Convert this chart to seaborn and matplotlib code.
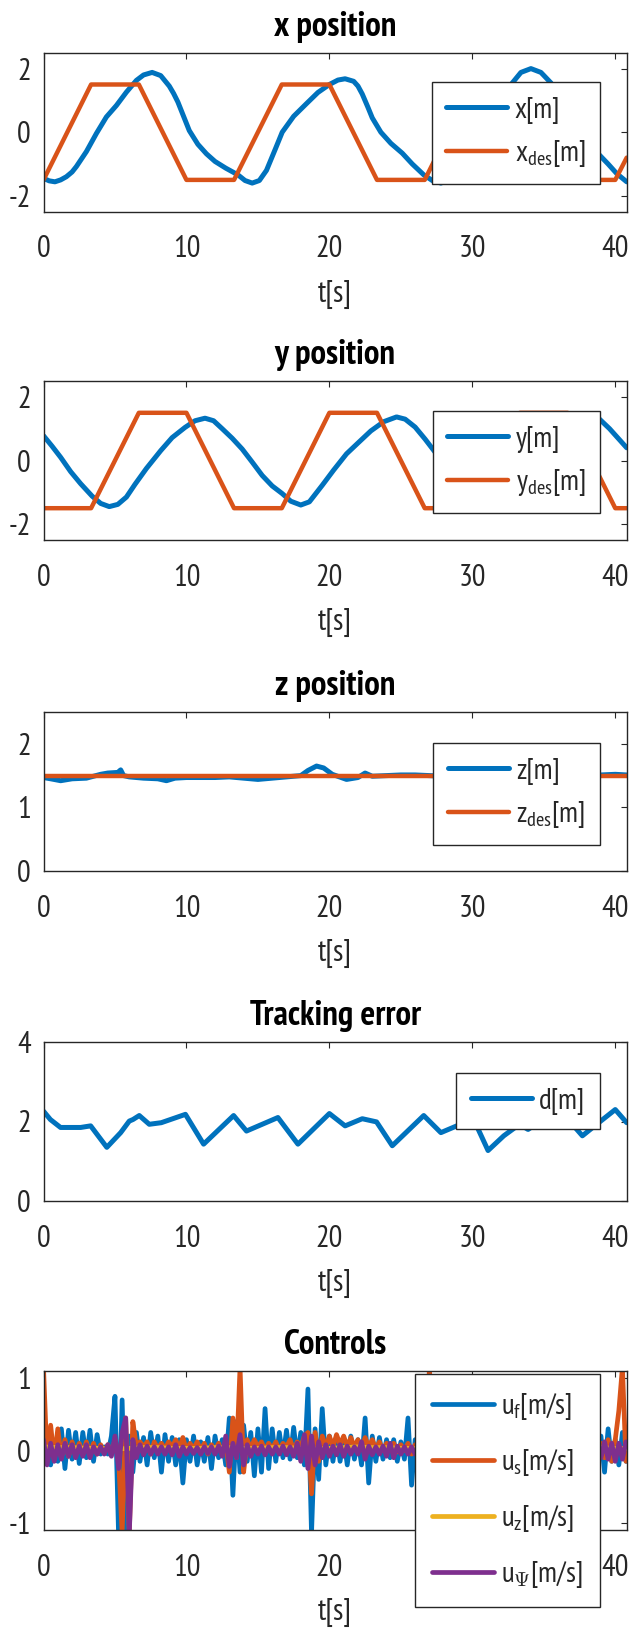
import numpy as np
import pandas as pd
import matplotlib
matplotlib.use("Agg")
import matplotlib.pyplot as plt
import matplotlib.font_manager as fm
import seaborn as sns

# MATLAB default line colours
BLUE, ORANGE, YELLOW, PURPLE = "#0072BD", "#D95319", "#EDB120", "#7E2F8E"

# ---- x position ----
x_t = [0, 0.4, 0.8, 1.2, 1.6, 2.0, 2.3, 3.0, 3.7, 4.4, 5.1, 5.8, 6.5, 7.0, 7.6, 8.2, 8.8,
       9.1, 9.4, 9.8, 10.2, 10.8, 11.4, 12.0, 12.75, 13.6, 14.1, 14.6, 15.1, 15.6, 16.2,
       16.7, 17.5, 18.4, 19.2, 20.0, 20.6, 21.1, 21.7, 22.0, 22.3, 22.7, 23.0, 23.6, 24.3,
       25.1, 25.8, 26.6, 27.2, 27.8, 28.4, 29.0, 29.7, 30.4, 31.2, 32.0, 32.8, 33.4, 34.1,
       34.8, 35.5, 36.3, 37.2, 38.0, 38.9, 39.5, 40.1, 40.8]
x_m = [-1.45, -1.53, -1.56, -1.50, -1.40, -1.25, -1.08, -0.61, -0.04, 0.48, 0.84, 1.26, 1.63,
       1.80, 1.88, 1.78, 1.45, 1.22, 0.95, 0.50, 0.05, -0.38, -0.68, -0.92, -1.13, -1.34,
       -1.52, -1.60, -1.52, -1.20, -0.55, 0.0, 0.50, 0.90, 1.25, 1.50, 1.64, 1.68, 1.60,
       1.45, 1.20, 0.78, 0.45, 0.0, -0.35, -0.66, -1.0, -1.34, -1.52, -1.60, -1.50, -1.20,
       -0.70, -0.10, 0.50, 1.0, 1.55, 1.88, 2.0, 1.88, 1.55, 0.80, 0.0, -0.45, -0.72, -1.0,
       -1.30, -1.56]
des_t = [0, 3.33, 6.67, 10, 13.33, 16.67, 20, 23.33, 26.67, 30, 33.33, 36.67, 40, 40.8]
x_des = [-1.5, 1.5, 1.5, -1.5, -1.5, 1.5, 1.5, -1.5, -1.5, 1.5, 1.5, -1.5, -1.5, -0.8]

# ---- y position ----
y_t = [0, 0.6, 1.2, 1.9, 2.6, 3.4, 4.0, 4.6, 5.2, 5.8, 6.4, 7.2, 8.2, 9.0, 9.9, 10.6, 11.3,
       11.9, 12.5, 13.2, 13.9, 14.6, 15.3, 16.0, 16.7, 17.3, 18.0, 18.6, 19.5, 20.3, 21.2,
       22.0, 22.9, 23.8, 24.7, 25.3, 26.0, 26.7, 27.5, 28.3, 29.0, 29.8, 30.6, 31.4, 32.1,
       32.9, 33.8, 34.6, 35.5, 36.4, 37.3, 38.1, 38.9, 39.6, 40.2, 40.8]
y_m = [0.78, 0.45, 0.10, -0.35, -0.73, -1.12, -1.35, -1.45, -1.38, -1.15, -0.75, -0.25, 0.31,
       0.72, 1.04, 1.25, 1.33, 1.25, 1.0, 0.70, 0.36, -0.05, -0.47, -0.80, -1.04, -1.28,
       -1.40, -1.30, -0.78, -0.30, 0.21, 0.55, 0.93, 1.22, 1.37, 1.30, 1.05, 0.67, 0.20,
       -0.30, -0.70, -1.05, -1.32, -1.42, -1.30, -0.95, -0.40, 0.15, 0.65, 1.05, 1.30, 1.40,
       1.30, 1.0, 0.70, 0.40]
y_des = [-1.5, -1.5, 1.5, 1.5, -1.5, -1.5, 1.5, 1.5, -1.5, -1.5, 1.5, 1.5, -1.5, -1.5]
y_des_t = [0, 3.33, 6.67, 10, 13.33, 16.67, 20, 23.33, 26.67, 30, 33.33, 36.67, 40, 40.8]

# ---- z position ----
z_t = [0, 0.5, 1.2, 2, 3, 4, 4.5, 5.2, 5.4, 5.6, 6, 7, 8, 8.6, 9.2, 10, 11, 12, 13, 14, 15,
       16, 17, 18, 18.5, 19.1, 19.6, 20.2, 21.2, 22, 22.5, 23, 24, 25, 26, 27, 28, 30, 32,
       34, 36, 38, 39, 40, 40.8]
z_m = [1.47, 1.45, 1.42, 1.45, 1.46, 1.52, 1.54, 1.55, 1.59, 1.50, 1.48, 1.46, 1.45, 1.42,
       1.46, 1.47, 1.47, 1.47, 1.48, 1.46, 1.44, 1.46, 1.48, 1.50, 1.58, 1.65, 1.62, 1.52,
       1.44, 1.47, 1.54, 1.49, 1.50, 1.51, 1.51, 1.50, 1.49, 1.50, 1.50, 1.49, 1.50, 1.50,
       1.51, 1.52, 1.51]
z_des_t = [0, 40.8]
z_des = [1.5, 1.5]

# ---- tracking error ----
d_t = [0, 0.48, 1.19, 2.6, 3.3, 4.43, 5.4, 6.0, 6.26, 6.7, 7.4, 8.24, 9.93, 11.2, 13.3, 14.2,
       16.4, 17.8, 20.0, 21.1, 22.3, 23.3, 24.4, 26.6, 27.8, 29.7, 30.2, 31.1, 32.2, 33.3,
       33.9, 35.3, 36.0, 36.7, 37.7, 38.7, 40.0, 40.8]
d_m = [2.26, 2.05, 1.85, 1.85, 1.89, 1.35, 1.72, 2.01, 2.05, 2.15, 1.93, 1.97, 2.18, 1.43,
       2.15, 1.76, 2.10, 1.43, 2.20, 1.89, 2.07, 1.99, 1.39, 2.15, 1.72, 2.01, 1.97, 1.27,
       1.64, 1.93, 1.80, 2.14, 2.30, 2.05, 1.64, 1.93, 2.30, 1.97]

# ---- controls (sampled every 0.25 s) ----
u_f = [-0.15, 0.10, -0.20, 0.12, -0.15, 0.30, -0.25, 0.28,
       -0.12, 0.25, -0.18, 0.25, -0.10, 0.28, -0.15, 0.22,
       -0.05, 0.05, -0.05, 0.20, 0.75, -1.15, 0.70, -1.15,
       0.20, -0.30, 0.25, -0.15, 0.18, -0.20, 0.25, -0.10,
       0.20, -0.30, 0.22, -0.15, 0.18, -0.20, 0.15, -0.45,
       0.15, -0.15, 0.20, -0.20, 0.12, -0.15, 0.18, -0.25,
       0.20, -0.10, 0.15, -0.20, 0.45, -0.62, 0.40, -0.30,
       0.35, -0.15, 0.25, -0.35, 0.30, -0.30, 0.58, -0.25,
       0.30, -0.15, 0.25, -0.10, 0.28, -0.12, 0.32, -0.10,
       0.25, -0.20, 0.85, -1.15, 0.30, -0.40, 0.58, -0.20,
       0.20, -0.15, 0.20, -0.15, 0.18, -0.20, 0.20, -0.12,
       0.15, -0.20, 0.45, -0.45, 0.20, -0.15, 0.18, -0.12,
       0.15, -0.10, 0.15, -0.15, 0.12, -0.12, 0.45, -0.48,
       0.15, -0.15, 0.20, -0.20, 0.15, -0.25, 0.30, -0.20,
       0.25, -0.30, 0.20, -0.15, 0.30, -0.20, 0.25, -0.18,
       0.20, -0.25, 0.30, -0.15, 0.25, -0.20, 0.20, -0.15,
       0.25, -0.20, 0.35, -0.25, 0.20, -0.15, 0.25, -0.20,
       0.20, -0.15, 0.30, -0.20, 0.25, -0.25, 0.20, -0.15,
       0.25, -0.20, 0.20, -0.15, 0.30, -0.20, 0.20, -0.15,
       0.15, -0.10, 0.20, -0.15, 0.20, -0.30, 0.30, -0.15,
       0.15, -0.20, 0.25, -0.15]
u_s = [1.15, -0.15, 0.35, -0.12, 0.30, -0.10, 0.15, -0.08,
       0.12, -0.05, 0.10, -0.05, 0.12, -0.05, 0.10, -0.05,
       0.08, -0.03, 0.08, -0.05, 0.15, -0.10, -1.15, 0.45,
       -1.15, 0.40, 0.05, 0.12, 0.05, 0.12, -0.05, 0.12,
       0.02, 0.10, 0.02, 0.12, 0.05, 0.15, 0.02, 0.18,
       0.00, 0.10, 0.02, 0.12, 0.00, 0.10, -0.05, 0.08,
       0.00, 0.10, -0.05, 0.12, -0.30, 0.45, -0.10, 1.15,
       -0.30, 0.15, 0.02, 0.15, 0.05, 0.12, 0.00, 0.10,
       0.02, 0.12, 0.00, 0.10, 0.05, 0.15, 0.00, 0.12,
       0.05, 0.20, 0.25, -0.60, 0.25, -0.15, 0.20, 0.05,
       0.20, 0.05, 0.22, 0.08, 0.20, 0.05, 0.18, 0.05,
       0.15, 0.02, 0.18, 0.05, 0.15, 0.02, 0.12, 0.00,
       0.10, 0.00, 0.10, -0.02, 0.08, 0.00, 0.10, -0.05,
       0.08, -0.05, 0.10, 0.00, 1.15, -0.10, 0.10, -0.05,
       0.10, -0.05, 0.12, 0.00, 0.10, -0.05, 0.08, 0.00,
       0.10, -0.05, 0.12, 0.00, 0.10, -0.05, 0.10, 0.00,
       0.12, -0.05, 0.10, 0.00, 0.12, -0.05, 0.10, 0.00,
       0.10, -0.05, 0.12, 0.00, 0.10, -0.05, 0.10, 0.00,
       0.12, -0.05, 0.10, 0.00, 0.10, -0.05, 0.12, 0.00,
       0.10, -0.05, 0.08, -0.10, 0.10, -0.10, 0.15, -0.15,
       0.15, 0.55, 1.15, -0.15]
u_z = [0.05, 0.04, 0.04, 0.03, 0.03, 0.02, 0.03, 0.04, 0.04, 0.03, 0.03, 0.03, 0.04, 0.04,
       0.03, 0.03, 0.04, 0.04, 0.03, 0.02, 0.03, 0.04, 0.05, 0.04, 0.04, 0.03, 0.03, 0.04,
       0.04, 0.04, 0.03, 0.03, 0.04, 0.04, 0.04, 0.03, 0.03, 0.04, 0.04, 0.04, 0.03, 0.03]
u_psi = [0.15, -0.20, 0.10, -0.15, 0.08, -0.12, 0.10, -0.08,
         0.08, -0.10, 0.06, -0.08, 0.08, -0.10, 0.05, -0.05,
         0.05, -0.05, 0.08, -0.08, 0.20, -0.25, 0.25, 0.45,
         -1.15, 0.15, -0.10, 0.08, -0.06, 0.06, -0.05, 0.05,
         -0.05, 0.05, -0.05, 0.05, -0.06, 0.08, -0.08, 0.05,
         -0.05, 0.04, -0.04, 0.04, -0.05, 0.05, -0.04, 0.05,
         -0.05, 0.06, -0.08, 0.20, -0.22, 0.10, -0.10, 0.22,
         -0.20, 0.08, -0.08, 0.05, -0.05, 0.06, -0.06, 0.05,
         -0.05, 0.05, -0.05, 0.06, -0.06, 0.05, -0.08, 0.10,
         -0.15, 0.22, -0.25, 0.20, -0.20, 0.12, -0.10, 0.08,
         -0.08, 0.06, -0.06, 0.08, -0.08, 0.06, -0.05, 0.05,
         -0.05, 0.12, -0.12, 0.06, -0.06, 0.05, -0.05, 0.06,
         -0.08, 0.10, -0.10, 0.06, -0.05, 0.05, -0.05, 0.05,
         -0.05, 0.06, -0.06, 0.05, -0.08, 0.08, -0.06, 0.05,
         -0.06, 0.06, -0.05, 0.06, -0.06, 0.05, -0.06, 0.06,
         -0.05, 0.06, -0.06, 0.05, -0.06, 0.06, -0.05, 0.05,
         -0.06, 0.06, -0.05, 0.06, -0.06, 0.05, -0.06, 0.06,
         -0.05, 0.06, -0.06, 0.05, -0.06, 0.06, -0.05, 0.05,
         -0.06, 0.06, -0.05, 0.06, -0.06, 0.05, -0.06, 0.06,
         -0.08, 0.10, -0.10, 0.08, -0.10, 0.12, -0.12, 0.10,
         -0.15, 0.10, -0.12, 0.12]

sns.set_theme(style="white")


# pick a narrow sans face that also has a bold weight (MATLAB figure look)
def _is_bold(f):
    w = f.weight
    if isinstance(w, str):
        return w.lower() in ("bold", "heavy", "black", "extra bold", "demibold", "semibold")
    return w >= 600


fonts = fm.fontManager.ttflist
bad = ("Light", "Thin", "Medium", "Black", "Extra", "Semi", "Demi")
cands = sorted({f.name for f in fonts
                if ("Narrow" in f.name or "Condensed" in f.name)
                and not any(b in f.name for b in bad)},
               key=lambda n: (0 if "Narrow" in n else 1, n))
cands = [n for n in cands if any(f.name == n and _is_bold(f) for f in fonts)]
FAM = cands[0] if cands else "Liberation Sans"

plt.rcParams["font.family"] = [FAM, "DejaVu Sans"]
plt.rcParams["mathtext.fontset"] = "custom"
plt.rcParams["mathtext.rm"] = FAM
plt.rcParams["mathtext.it"] = FAM
plt.rcParams["axes.unicode_minus"] = False

FS = 21
EDGE = "#262626"

fig = plt.figure(figsize=(6.32, 16.32), dpi=100)
W, H = 632, 1632
left, width, height = 43.5, 583.2, 159
tops = [52.7, 381, 712, 1042, 1371]
axes = [fig.add_axes([left / W, 1 - (t + height) / H, width / W, height / H]) for t in tops]
# legend upper-right corners in figure pixels (from the top)
leg_tops = [82, 411, 743, 1073, 1374]


def line(ax, t, v, color, label, lw=3.2):
    sns.lineplot(x=np.asarray(t, float), y=np.asarray(v, float), ax=ax, color=color,
                 lw=lw, label=label, sort=False, estimator=None)


ctrl_t = lambda u: np.arange(len(u)) * 0.25

line(axes[0], x_t, x_m, BLUE, "x[m]", lw=3.6)
line(axes[0], des_t, x_des, ORANGE, r"x$_{\mathrm{des}}$[m]")
line(axes[1], y_t, y_m, BLUE, "y[m]", lw=3.6)
line(axes[1], y_des_t, y_des, ORANGE, r"y$_{\mathrm{des}}$[m]")
line(axes[2], z_t, z_m, BLUE, "z[m]", lw=3.6)
line(axes[2], z_des_t, z_des, ORANGE, r"z$_{\mathrm{des}}$[m]")
line(axes[3], d_t, d_m, BLUE, "d[m]", lw=3.6)
line(axes[4], ctrl_t(u_f), u_f, BLUE, r"u$_{\mathrm{f}}$[m/s]", lw=3.4)
line(axes[4], ctrl_t(u_s), u_s, ORANGE, r"u$_{\mathrm{s}}$[m/s]", lw=3.4)
line(axes[4], np.arange(len(u_z)) * 1.0, u_z, YELLOW, r"u$_{\mathrm{z}}$[m/s]", lw=3.4)
line(axes[4], ctrl_t(u_psi), u_psi, PURPLE, r"u$_{\Psi}$[m/s]", lw=3.4)

titles = ["x position", "y position", "z position", "Tracking error", "Controls"]
ylims = [(-2.5, 2.5), (-2.5, 2.5), (0, 2.5), (0, 4), (-1.1, 1.1)]
yticks = [[-2, 0, 2], [-2, 0, 2], [0, 1, 2], [0, 2, 4], [-1, 0, 1]]

for i, (ax, title, yl, yt) in enumerate(zip(axes, titles, ylims, yticks)):
    ax.set_xlim(0, 40.8)
    ax.set_ylim(*yl)
    ax.set_xticks([0, 10, 20, 30, 40])
    ax.set_yticks(yt)
    ax.set_title(title, fontsize=FS + 4, fontweight="bold", color="black", pad=12)
    ax.set_xlabel("t[s]", fontsize=FS + 1, color=EDGE, labelpad=12)
    ax.set_ylabel("")
    ax.tick_params(direction="in", length=4, width=0.8, top=True, right=True,
                   labelsize=FS + 1, colors=EDGE)
    ax.tick_params(axis="x", pad=17)
    ax.tick_params(axis="y", pad=9)
    for s in ax.spines.values():
        s.set_visible(True)
        s.set_color(EDGE)
        s.set_linewidth(1.0)
    tall = i == 4
    leg = ax.legend(loc="upper right", bbox_to_anchor=(600 / W, 1 - leg_tops[i] / H),
                    bbox_transform=fig.transFigure, borderaxespad=0,
                    fontsize=FS, frameon=True, fancybox=False, framealpha=1,
                    edgecolor=EDGE, handlelength=2.1, handletextpad=0.25,
                    labelspacing=0.85 if tall else 0.5,
                    borderpad=0.6 if tall else 0.5)
    leg.get_frame().set_linewidth(1.0)
    leg.set_zorder(10)

fig.savefig("out.png", dpi=100)
